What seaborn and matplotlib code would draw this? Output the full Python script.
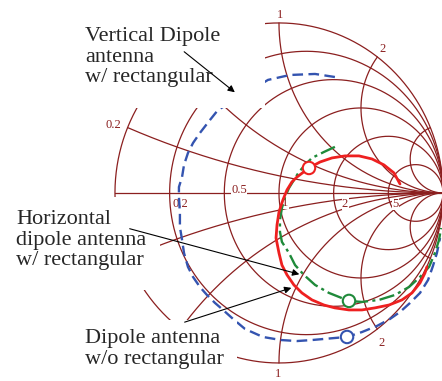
import matplotlib
matplotlib.use('Agg')
import numpy as np
import pandas as pd
import matplotlib.pyplot as plt
from matplotlib.patches import Rectangle
import seaborn as sns

red_re = [0.738, 0.701, 0.640, 0.567, 0.488, 0.402, 0.323, 0.250, 0.183, 0.110, 0.079, 0.049,
          0.024, 0.0, -0.012, -0.018, 0.0, 0.018, 0.049, 0.091, 0.140, 0.201, 0.274, 0.341,
          0.427, 0.506, 0.585, 0.671, 0.750, 0.811, 0.860, 0.890, 0.902]
red_im = [0.053, 0.118, 0.165, 0.200, 0.218, 0.218, 0.206, 0.182, 0.147, 0.094, 0.065, 0.018,
          -0.041, -0.112, -0.188, -0.265, -0.353, -0.424, -0.482, -0.541, -0.588, -0.629, -0.659,
          -0.676, -0.688, -0.688, -0.676, -0.659, -0.629, -0.588, -0.529, -0.471, -0.435]

green_re = [0.341, 0.274, 0.201, 0.159, 0.122, 0.091, 0.061, 0.037, 0.018, 0.006, 0.006, 0.018,
            0.061, 0.098, 0.152, 0.220, 0.305, 0.427, 0.506, 0.610, 0.707, 0.793, 0.860, 0.915,
            0.951, 0.976, 0.988]
green_im = [0.271, 0.241, 0.206, 0.165, 0.124, 0.076, 0.029, -0.024, -0.088, -0.159, -0.229,
            -0.288, -0.353, -0.424, -0.482, -0.541, -0.588, -0.635, -0.641, -0.629, -0.600,
            -0.553, -0.494, -0.435, -0.353, -0.276, -0.206]

blue_re = [0.341, 0.220, 0.067, -0.067, -0.372, -0.421, -0.482, -0.524, -0.555, -0.579, -0.591,
           -0.610, -0.610, -0.604, -0.604, -0.591, -0.579, -0.555, -0.524, -0.482, -0.439, -0.390,
           -0.341, -0.280, -0.207, -0.098, 0.012, 0.110, 0.201, 0.341, 0.415, 0.506, 0.598, 0.677,
           0.738, 0.799, 0.860, 0.909, 0.939, 0.963, 0.982]
blue_im = [0.682, 0.700, 0.694, 0.665, 0.488, 0.429, 0.353, 0.294, 0.235, 0.165, 0.094, 0.035,
           -0.024, -0.118, -0.200, -0.276, -0.353, -0.435, -0.494, -0.553, -0.600, -0.647, -0.688,
           -0.741, -0.800, -0.847, -0.865, -0.871, -0.865, -0.853, -0.847, -0.818, -0.782, -0.741,
           -0.700, -0.647, -0.588, -0.512, -0.429, -0.353, -0.265]

# open circle markers
marker_re = [0.183, 0.427, 0.415]
marker_im = [0.147, -0.635, -0.847]

# smith chart grid
r_values = [0, 0.2, 0.5, 1, 2, 5]
x_values = [0.2, 0.5, 1, 2, 5]

W, H = 442, 381
grid_col = '#8b1f1f'
red, green, blue = '#ee2020', '#1f8a3a', '#3454b0'

sns.set_style('white')
plt.rcParams['font.family'] = ['Liberation Serif', 'DejaVu Serif']

fig = plt.figure(figsize=(W / 100, H / 100), dpi=100)
ax = fig.add_axes([0, 0, 1, 1])
ax.set_xlim(-1.701, 0.994)
ax.set_ylim(-1.106, 1.135)
ax.axis('off')


def px(x, y):
    # pixel position -> axes fraction
    return (x / W, 1 - y / H)


def gamma(z):
    return (z - 1) / (z + 1)


# resistance circles
t = np.linspace(-np.pi / 2 + 1e-4, np.pi / 2 - 1e-4, 800)
for r in r_values:
    g = gamma(r + 1j * np.tan(t))
    ax.plot(g.real, g.imag, color=grid_col, lw=0.9, zorder=1)

# reactance arcs
s = np.linspace(0, np.pi / 2 - 1e-4, 600)
for xv in x_values:
    for sign in (1, -1):
        g = gamma(np.tan(s) + 1j * sign * xv)
        ax.plot(g.real, g.imag, color=grid_col, lw=0.9, zorder=1)
ax.plot([-1, 1], [0, 0], color=grid_col, lw=0.9, zorder=1)

# measured curves
df = pd.concat([
    pd.DataFrame({'re': blue_re, 'im': blue_im, 'curve': 'blue'}),
    pd.DataFrame({'re': green_re, 'im': green_im, 'curve': 'green'}),
    pd.DataFrame({'re': red_re, 'im': red_im, 'curve': 'red'}),
])
styles = {'blue': (blue, (0, (4.5, 2.3)), 1.7),
          'green': (green, (0, (6.5, 1.8, 1.3, 1.8)), 1.7),
          'red': (red, '-', 2.0)}
for name, (col, ls, lw) in styles.items():
    sub = df[df['curve'] == name]
    sns.lineplot(data=sub, x='re', y='im', sort=False, estimator=None, color=col,
                 lw=lw, linestyle=ls, ax=ax, zorder=3)

sns.scatterplot(x=marker_re, y=marker_im, s=80, facecolor='white',
                edgecolor=[red, green, blue], linewidth=1.5, ax=ax, zorder=4)
ax.set_xlabel('')
ax.set_ylabel('')

# grid labels
lab = dict(color=grid_col, fontsize=9, ha='center', va='center', transform=ax.transAxes,
           zorder=2, bbox=dict(fc='white', ec='none', pad=0.3))
for txt, (x, y) in [('0.2', (180, 204)), ('0.5', (239, 190)), ('1', (285, 203)),
                    ('2', (345, 204)), ('5', (395, 204)), ('1', (280, 15)),
                    ('2', (383, 49)), ('0.2', (113, 125)), ('2', (382, 343)),
                    ('1', (278, 374))]:
    ax.text(*px(x, y), txt, **lab)

# white cover boxes behind the annotations
for x0, y0, x1, y1 in [(0, 0, 265, 108), (0, 197, 160, 290), (0, 320, 237, 381)]:
    ax.add_patch(Rectangle(px(x0, y1), (x1 - x0) / W, (y1 - y0) / H,
                           transform=ax.transAxes, fc='white', ec='none', zorder=5))

txt = dict(fontsize=16, ha='left', va='top', transform=ax.transAxes, zorder=6,
           linespacing=1.12)
ax.text(*px(85, 27), 'Vertical Dipole\nantenna\nw/ rectangular', **txt)
ax.text(*px(16, 210), 'Horizontal\ndipole antenna\nw/ rectangular', **txt)
ax.text(*px(85, 329), 'Dipole antenna\nw/o rectangular', **txt)

arrow = dict(arrowstyle='-|>', color='black', lw=0.8, mutation_scale=10)
for start, end in [((182, 50), (237, 94)), ((127, 228), (302, 275)), ((182, 323), (294, 287))]:
    ax.annotate('', xy=px(*end), xytext=px(*start), xycoords='axes fraction',
                textcoords='axes fraction', arrowprops=arrow, zorder=7)

fig.savefig('out.png', dpi=100)
